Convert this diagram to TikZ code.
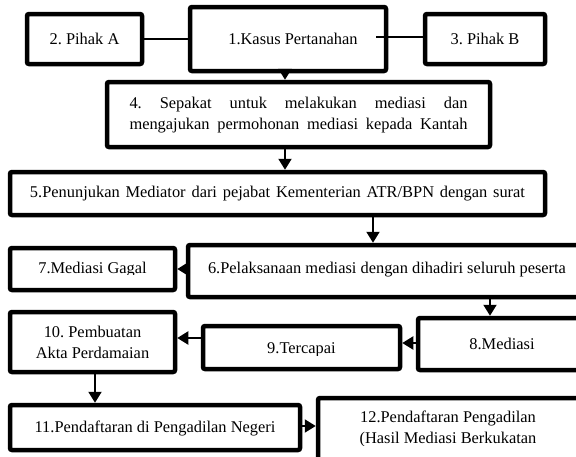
\documentclass[tikz,border=0pt]{standalone}
\usepackage{fontspec}
\setmainfont{Liberation Serif}
\usetikzlibrary{arrows.meta,calc}
\tikzset{
  box/.style={draw=black, line width=4.5pt, rounded corners=2pt, inner sep=0pt, fill=white},
  txt/.style={inner sep=0pt, font=\fontsize{16.4}{21}\selectfont\frenchspacing, align=center},
  arr/.style={line width=2pt, -{Triangle[width=13pt,length=11pt]}},
  link/.style={line width=1.6pt}
}
\newcommand{\boxat}[5]{% name, x1, y1, x2, y2
  \node[box, minimum width=#4-#2, minimum height=#5-#3] (#1) at ({(#2+#4)/2},{(#3+#5)/2}) {};}
\begin{document}
\begin{tikzpicture}[x=1pt, y=-1pt]
\useasboundingbox[fill=white] (0,0) rectangle (576,456);
% boxes
\boxat{b2}{27}{14}{142}{64}
\boxat{b1}{190}{7}{386}{71}
\boxat{b3}{425}{14}{545}{64}
\boxat{b4}{107}{82}{490}{147}
\boxat{b5}{10}{172}{545}{215}
\boxat{b7}{10}{248}{175}{290}
\boxat{b6}{188}{245}{600}{297}
\boxat{b8}{418}{318}{600}{370}
\boxat{b9}{203}{326}{400}{369}
\boxat{b10}{10}{312}{175}{372}
\boxat{b11}{10}{405}{300}{450}
\boxat{b12}{318}{398}{600}{470}
% texts
\node[txt] (t2) at (b2) {2. Pihak A};
\node[txt] (t1) at ($(b1)+(5,0)$) {1.Kasus Pertanahan};
\node[txt] (t3) at (b3) {3. Pihak B};
\begin{scope}
\clip (107,90) rectangle (490,132);
\node[txt] (t4) at (298.5,115) {\parbox{338pt}{\frenchspacing\parfillskip=0pt\relax 4. Sepakat untuk melakukan mediasi dan\linebreak mengajukan permohonan mediasi kepada Kantah}};
\end{scope}
\node[txt] (t5) at (277.5,194) {\parbox{495pt}{\frenchspacing\parfillskip=0pt\relax 5.Penunjukan Mediator dari pejabat Kementerian ATR/BPN dengan surat}};
\begin{scope}
\clip (10,250) rectangle (175,274);
\node[txt] (t7) at (92.5,270) {7.Mediasi Gagal};
\end{scope}
\node[txt] (t6) at (387,270) {6.Pelaksanaan mediasi dengan dihadiri seluruh peserta};
\node[txt] (t8) at (502,344) {8.Mediasi};
\begin{scope}
\clip (203,330) rectangle (400,355);
\node[txt] (t9) at (301.5,350) {9.Tercapai};
\end{scope}
\node[txt] (t10) at (b10) {10. Pembuatan\\Akta Perdamaian};
\node[txt] (t11) at (155,428) {11.Pendaftaran di Pengadilan Negeri};
\begin{scope}
\clip (318,400) rectangle (576,445);
\node[txt] (t12) at (448,429) {12.Pendaftaran Pengadilan\\(Hasil Mediasi Berkukatan};
\end{scope}
% connectors
\draw[link] (b2.east) -- (b2.east -| b1.west);
\draw[link] ($(b1.east)+(-12,-2)$) -- (b3.west |- 0,37);
\draw[arr] (b1.south -| 285,0) -- (b4.north -| 285,0);
\draw[arr] (b4.south -| 285,0) -- (b5.north -| 285,0);
\draw[arr] (b5.south -| 373,0) -- (b6.north -| 373,0);
\draw[arr] (b6.west |- b7.east) -- (b7.east);
\draw[arr] (b6.south -| 490,0) -- (b8.north -| 490,0);
\draw[arr] (b8.west |- 0,343) -- (b9.east |- 0,343);
\draw[arr] (b9.west |- 0,338) -- (b10.east |- 0,338);
\draw[arr] (b10.south -| 95,0) -- (b11.north -| 95,0);
\draw[arr] (b11.east |- 0,426) -- (b12.west |- 0,426);
\end{tikzpicture}
\end{document}
